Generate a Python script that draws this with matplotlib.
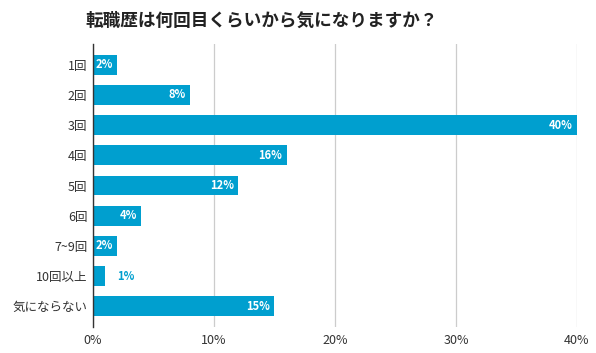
import matplotlib.pyplot as plt
from matplotlib.ticker import FuncFormatter

plt.rcParams['font.family'] = ['Noto Sans CJK JP', 'DejaVu Sans']

# データ
categories = ['1回', '2回', '3回', '4回', '5回', '6回', '7~9回', '10回以上', '気にならない']
values = [2, 8, 40, 16, 12, 4, 2, 1, 15]
title = '転職歴は何回目くらいから気になりますか？'

bar_color = '#009fcf'

fig = plt.figure(figsize=(5.96, 3.53), dpi=100)
ax = fig.add_axes([0.156, 0.074, 0.812, 0.801])

y = list(range(len(categories)))
ax.barh(y, values, height=0.66, color=bar_color, zorder=2)

ax.set_ylim(len(categories) - 1 + 0.68, -0.68)
ax.set_xlim(0, 40)
ax.set_yticks(y)
ax.set_yticklabels(categories, fontsize=9, color='#333333')
ax.set_xticks([0, 10, 20, 30, 40])
ax.xaxis.set_major_formatter(FuncFormatter(lambda v, p: f"{v:.0f}%"))
ax.tick_params(axis='x', labelsize=9, labelcolor='#333333', length=0, pad=5)
ax.tick_params(axis='y', length=0, pad=4)

ax.grid(axis='x', color='#cccccc', linewidth=0.9, zorder=0)
for s in ['top', 'right', 'bottom']:
    ax.spines[s].set_visible(False)
ax.spines['left'].set_color('#333333')
ax.spines['left'].set_linewidth(1.0)
ax.spines['left'].set_zorder(3)

# 値ラベル
for yi, v in zip(y, values):
    if v >= 2:
        ax.annotate(f"{v}%", (v, yi), xytext=(-3, 0), textcoords='offset points',
                    ha='right', va='center', fontsize=8, fontweight='bold',
                    color='white', zorder=4)
    else:
        ax.annotate(f"{v}%", (v, yi), xytext=(9, 0), textcoords='offset points',
                    ha='left', va='center', fontsize=8, fontweight='bold',
                    color=bar_color, zorder=4)

fig.text(85 / 596, 1 - 21 / 353, title, ha='left', va='center',
         fontsize=12.7, fontweight='bold', color='#222222')

plt.savefig('out.png', dpi=100)
